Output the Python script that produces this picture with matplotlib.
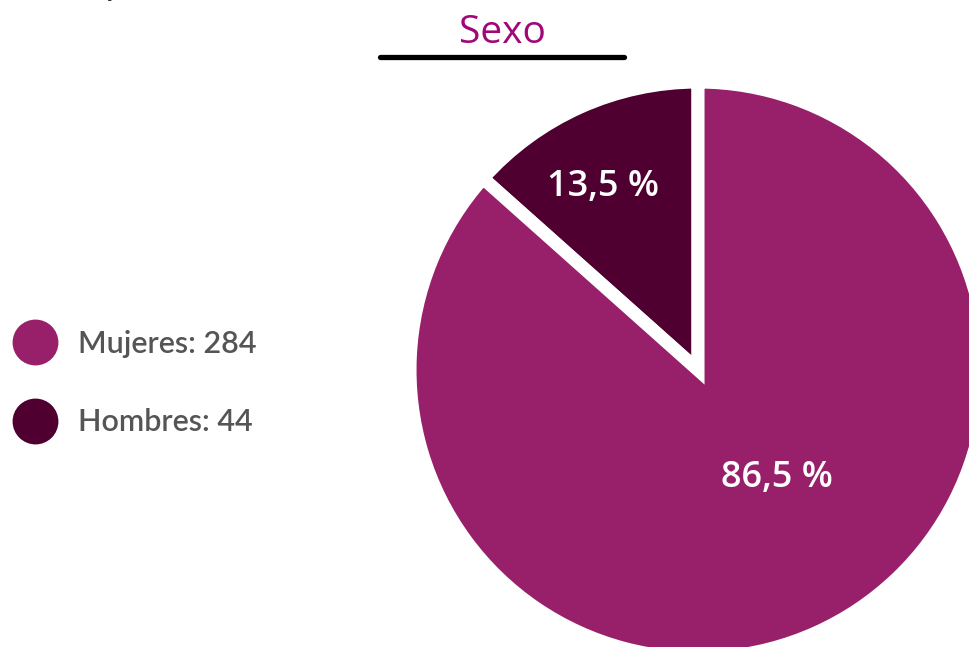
import matplotlib
matplotlib.use("Agg")
import matplotlib.pyplot as plt
from matplotlib.lines import Line2D

categories = ["Hombres", "Mujeres"]
counts = [44, 284]
pct_labels = ["13,5 %", "86,5 %"]
colors = ["#500030", "#98206A"]
title = "Sexo"

W, H = 969, 647
fig = plt.figure(figsize=(W / 100, H / 100), dpi=100)
ax = fig.add_axes([0, 0, 1, 1])

cx, cy, r = 698, H - 370, 288
wedges, _ = ax.pie(counts, colors=colors, startangle=90, counterclock=True,
                   center=(cx, cy), radius=r, frame=True,
                   wedgeprops=dict(edgecolor="white", linewidth=9.4, joinstyle="miter"))
ax.set_xlim(0, W)
ax.set_ylim(0, H)
ax.set_aspect("equal")
ax.axis("off")

# percentage labels
lab_pos = [(603, H - 187), (777, H - 478)]
for (x, y), t in zip(lab_pos, pct_labels):
    ax.text(x, y, t, color="white", fontsize=26, fontfamily="Open Sans",
            fontweight="semibold", ha="center", va="center")

# title and underline
fig.text(502 / W, 1 - 33 / H, title, color="#A0087A", fontsize=28,
         fontfamily="Open Sans", ha="center", va="center")
fig.add_artist(Line2D([380 / W, 624 / W], [1 - 57 / H, 1 - 57 / H],
                      transform=fig.transFigure, color="black", lw=3.8,
                      solid_capstyle="round"))

# cut-off text descenders at top (as in the reference)
fig.text(112 / W, 1 + 3 / H, "y", fontsize=14, color="#222222",
         fontfamily="Open Sans", ha="center", va="baseline")
fig.text(335 / W, 1 + 4 / H, "p", fontsize=14, color="#222222",
         fontfamily="Open Sans", ha="center", va="baseline")

# legend
legend_order = [1, 0]
handles = [Line2D([], [], marker="o", ls="", ms=33, color=colors[i],
                  markeredgewidth=0) for i in legend_order]
labels = [f"{categories[i]}: {counts[i]}" for i in legend_order]
leg = fig.legend(handles, labels, loc="center left",
                 bbox_to_anchor=(12 / W, 1 - 383 / H), frameon=False,
                 prop=dict(family="Lato", size=22, weight="semibold"),
                 labelcolor="#555555",
                 handlelength=1.5, handletextpad=0.65, labelspacing=1.65,
                 borderpad=0, borderaxespad=0)

fig.savefig("out.png", dpi=100)
